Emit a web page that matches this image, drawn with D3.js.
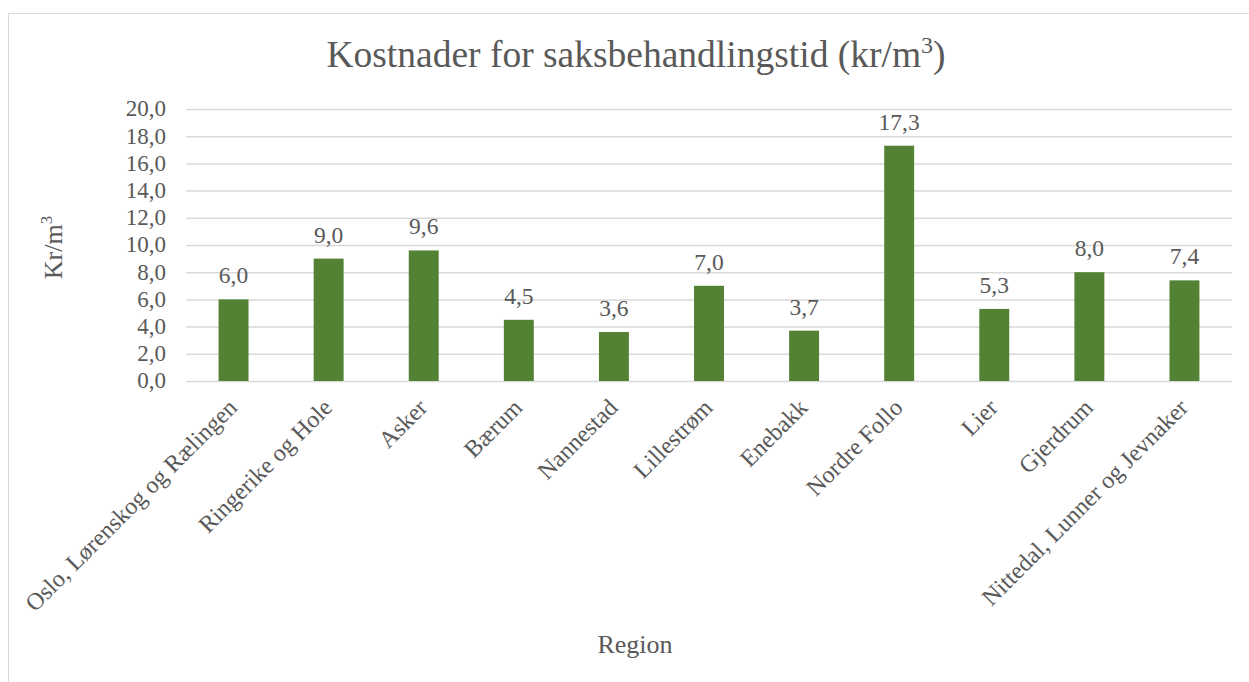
<!DOCTYPE html>
<html>
<head>
<meta charset="utf-8">
<script src="https://cdn.jsdelivr.net/npm/d3@7"></script>
<style>
  html, body { margin: 0; padding: 0; background: #fff; }
  svg { display: block; }
  svg text { font-family: "Liberation Serif", "Tinos", "Times New Roman", "Noto Serif", "DejaVu Serif", serif !important; fill: #595959; }
</style>
</head>
<body>
<script>
const categories = ["Oslo, Lørenskog og Rælingen", "Ringerike og Hole", "Asker", "Bærum", "Nannestad", "Lillestrøm", "Enebakk", "Nordre Follo", "Lier", "Gjerdrum", "Nittedal, Lunner og Jevnaker"];
const values = [6.0, 9.0, 9.6, 4.5, 3.6, 7.0, 3.7, 17.3, 5.3, 8.0, 7.4];
const yTicks = [0, 2, 4, 6, 8, 10, 12, 14, 16, 18, 20];
const titleMain = "Kostnader for saksbehandlingstid (kr/m";
const titleSup = "3";
const titleEnd = ")";
const yTitleMain = "Kr/m";
const yTitleSup = "3";
const xTitle = "Region";

const W = 1249, H = 682;
const plot = { left: 186, right: 1232, top: 109, bottom: 381 };

const locale = d3.formatLocale({ decimal: ",", thousands: " ", grouping: [3], currency: ["", " kr"] });
const fmt = locale.format(".1f");

const svg = d3.select("body").append("svg").attr("width", W).attr("height", H);

// outer border
svg.append("rect").attr("x", 8.5).attr("y", 13.5).attr("width", W + 10).attr("height", H + 10)
  .attr("fill", "none").attr("stroke", "#d9d9d9").attr("stroke-width", 1);

const x = d3.scaleBand().domain(categories).range([plot.left, plot.right]).paddingInner(0.685).paddingOuter(0.3425);
const y = d3.scaleLinear().domain([0, 20]).range([plot.bottom, plot.top]);

// gridlines + y tick labels
const yAxis = d3.axisLeft(y).tickValues(yTicks).tickSize(-(plot.right - plot.left)).tickPadding(20).tickFormat(fmt);
const gy = svg.append("g").attr("transform", `translate(${plot.left},0)`).call(yAxis);
gy.attr("font-family", null);
gy.select(".domain").remove();
gy.selectAll(".tick line").attr("stroke", "#d9d9d9").attr("stroke-width", 1.5);
gy.selectAll(".tick text").attr("font-size", 23).attr("dy", "0.3em");

// bars
svg.append("g").selectAll("rect").data(values).join("rect")
  .attr("x", (d, i) => x(categories[i]))
  .attr("y", d => y(d))
  .attr("width", x.bandwidth())
  .attr("height", d => y(0) - y(d))
  .attr("fill", "#548235");

// value labels
svg.append("g").selectAll("text").data(values).join("text")
  .attr("x", (d, i) => x(categories[i]) + x.bandwidth() / 2)
  .attr("y", d => y(d) - 16)
  .attr("text-anchor", "middle")
  .attr("font-size", 23.5)
  .text(d => fmt(d));

// x axis labels (rotated)
const xAxis = d3.axisBottom(x).tickSize(0).tickPadding(0);
const gx = svg.append("g").attr("transform", `translate(0,${plot.bottom})`).call(xAxis);
gx.attr("font-family", null);
gx.select(".domain").remove();
gx.selectAll(".tick text")
  .attr("font-size", 24)
  .attr("text-anchor", "end")
  .attr("dy", null)
  .attr("y", null)
  .attr("transform", "translate(5,28) rotate(-45)");

// title
const t = svg.append("text").attr("x", 636).attr("y", 67).attr("text-anchor", "middle").attr("font-size", 37.5);
t.append("tspan").text(titleMain);
t.append("tspan").attr("font-size", 24).attr("dy", -14).text(titleSup);
t.append("tspan").attr("dy", 14).text(titleEnd);

// y title
const yt = svg.append("text").attr("transform", "translate(62,247.5) rotate(-90)").attr("text-anchor", "middle").attr("font-size", 26);
yt.append("tspan").text(yTitleMain);
yt.append("tspan").attr("font-size", 17).attr("dy", -10).text(yTitleSup);

// x title
svg.append("text").attr("x", 635).attr("y", 652.7).attr("text-anchor", "middle").attr("font-size", 26).text(xTitle);
</script>
</body>
</html>
